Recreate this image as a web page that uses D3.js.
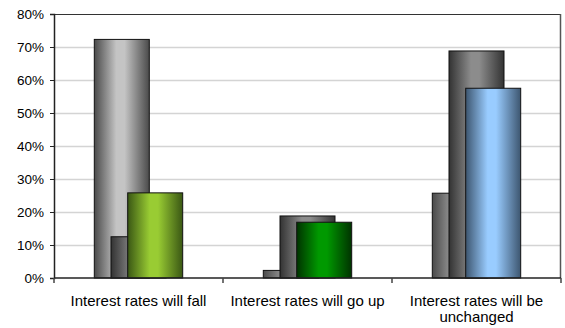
<!DOCTYPE html>
<html>
<head>
<meta charset="utf-8">
<script src="https://cdn.jsdelivr.net/npm/d3@7"></script>
<style>
  html, body { margin: 0; padding: 0; background: #fff; }
  svg { display: block; font-family: "Liberation Sans", Arial, sans-serif; }
</style>
</head>
<body>
<svg id="chart" width="565" height="328"></svg>
<script>
// Survey answers on the interest rate outlook, three overlapping series per answer
const categories = ["Interest rates will fall", "Interest rates will go up", "Interest rates will be unchanged"];
const seriesNames = ["Series 1", "Series 2", "Series 3"];
const series1 = [0.723, 0.023, 0.257];
const series2 = [0.125, 0.188, 0.688];
const series3 = [0.258, 0.169, 0.575];
const yTicks = [0, 0.1, 0.2, 0.3, 0.4, 0.5, 0.6, 0.7, 0.8];

// Per-point fills: [dark edge, light centre]
const series1Colors = [["#4a4a4a", "#c4c4c4"], ["#4a4a4a", "#a0a0a0"], ["#4a4a4a", "#a0a0a0"]];
const series2Colors = [["#333333", "#8c8c8c"], ["#333333", "#8c8c8c"], ["#333333", "#8c8c8c"]];
const series3Colors = [["#3a5714", "#99cc33"], ["#003300", "#009900"], ["#3d5670", "#99ccff"]];

const allValues = [series1, series2, series3];
const allColors = [series1Colors, series2Colors, series3Colors];

const svg = d3.select("#chart");
const margin = { left: 54, right: 4, top: 14, bottom: 50 };
const W = 565, H = 328;
const plotRight = W - margin.right;
const plotBottom = H - margin.bottom;

const x = d3.scaleBand().domain(categories).range([margin.left, plotRight]).padding(0);
const y = d3.scaleLinear().domain([0, 0.8]).range([plotBottom, margin.top]);
const offset = d3.scalePoint().domain(seriesNames).range([-16.7, 16.7]);
const barWidth = 55;

// Gradients
const defs = svg.append("defs");
allColors.forEach((cols, si) => {
  cols.forEach((c, ci) => {
    const g = defs.append("linearGradient")
      .attr("id", `g${si}_${ci}`)
      .attr("x1", "0%").attr("x2", "100%").attr("y1", "0%").attr("y2", "0%");
    g.append("stop").attr("offset", "0%").attr("stop-color", c[0]);
    g.append("stop").attr("offset", "40%").attr("stop-color", c[1]);
    g.append("stop").attr("offset", "55%").attr("stop-color", c[1]);
    g.append("stop").attr("offset", "100%").attr("stop-color", c[0]);
  });
});

// Gridlines
svg.append("g")
  .selectAll("line")
  .data(yTicks.slice(1, -1))
  .join("line")
  .attr("x1", margin.left).attr("x2", plotRight)
  .attr("y1", d => Math.round(y(d)) + 0.5).attr("y2", d => Math.round(y(d)) + 0.5)
  .attr("stroke", "#d4d4d4").attr("stroke-width", 1.5);

// Bars
allValues.forEach((vals, si) => {
  svg.append("g")
    .selectAll("rect")
    .data(vals.map((v, ci) => ({ v, ci })))
    .join("rect")
    .attr("x", d => x(categories[d.ci]) + x.bandwidth() / 2 + offset(seriesNames[si]) - barWidth / 2)
    .attr("y", d => y(d.v))
    .attr("width", barWidth)
    .attr("height", d => plotBottom - y(d.v))
    .attr("fill", d => `url(#g${si}_${d.ci})`)
    .attr("stroke", "#111")
    .attr("stroke-width", 1);
});

// Plot frame (top and right)
svg.append("line")
  .attr("x1", margin.left).attr("x2", plotRight)
  .attr("y1", margin.top + 0.5).attr("y2", margin.top + 0.5)
  .attr("stroke", "#333").attr("stroke-width", 1);
svg.append("line")
  .attr("x1", plotRight - 0.5).attr("x2", plotRight - 0.5)
  .attr("y1", margin.top).attr("y2", plotBottom)
  .attr("stroke", "#555").attr("stroke-width", 1.5);

// Y axis
const yAxis = d3.axisLeft(y).tickValues(yTicks).tickFormat(d3.format(".0%")).tickSize(4).tickPadding(6);
const yg = svg.append("g").attr("transform", `translate(${margin.left},0)`).call(yAxis);
yg.select(".domain").attr("stroke", "#222").attr("stroke-width", 1.5);
yg.selectAll(".tick line").attr("stroke", "#222");
yg.selectAll("text").attr("font-size", 13.5).attr("fill", "#000")
  .attr("font-family", "'Liberation Sans', Arial, sans-serif");

// X axis: ticks at category boundaries
const xg = svg.append("g").attr("transform", `translate(0,${plotBottom})`);
xg.append("line")
  .attr("x1", margin.left).attr("x2", plotRight)
  .attr("stroke", "#222").attr("stroke-width", 1.5);
const bounds = categories.map(c => x(c)).concat([plotRight]);
xg.selectAll("line.tk")
  .data(bounds)
  .join("line").attr("class", "tk")
  .attr("x1", d => d).attr("x2", d => d)
  .attr("y1", 0).attr("y2", 5)
  .attr("stroke", "#444").attr("stroke-width", 1.5);

// Category labels, wrapped to fit the band
const labelLines = [["Interest rates will fall"], ["Interest rates will go up"], ["Interest rates will be", "unchanged"]];
categories.forEach((c, i) => {
  const t = xg.append("text")
    .attr("x", x(c) + x.bandwidth() / 2)
    .attr("y", 28)
    .attr("text-anchor", "middle")
    .attr("font-size", 15)
    .attr("fill", "#000");
  labelLines[i].forEach((ln, k) => {
    t.append("tspan").attr("x", x(c) + x.bandwidth() / 2).attr("dy", k === 0 ? 0 : 16).text(ln);
  });
});
</script>
</body>
</html>
